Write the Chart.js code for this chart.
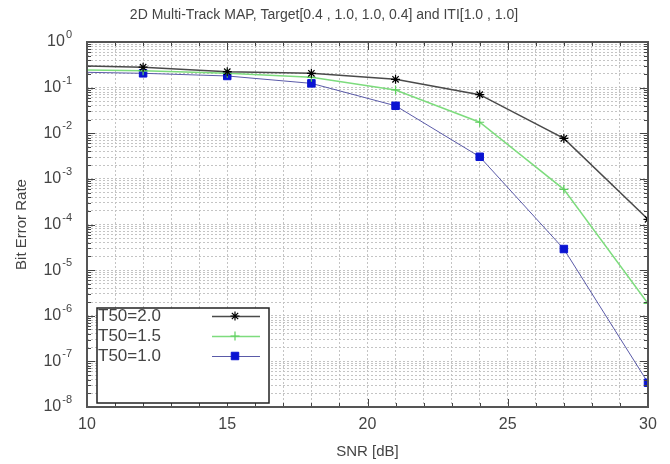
<!DOCTYPE html>
<html>
<head>
<meta charset="utf-8">
<script src="https://cdn.jsdelivr.net/npm/chart.js@4.4.0/dist/chart.umd.min.js"></script>
<style>
  html, body { margin: 0; padding: 0; background: #fff; }
</style>
</head>
<body>
<canvas id="chart" width="670" height="464"></canvas>
<script>
// SNR points (first one sits left of the visible range, only its line shows)
const snr = [9, 12, 15, 18, 21, 24, 27, 30];
const berT20 = [0.31, 0.28, 0.224, 0.206, 0.152, 0.07, 0.0077, 1.3e-4];
const berT15 = [0.248, 0.235, 0.206, 0.168, 0.089, 0.0174, 5.9e-4, 1.86e-6];
const berT10 = [0.222, 0.206, 0.18, 0.124, 0.040, 0.00305, 2.9e-5, 3.4e-8];
const seriesLabels = ['T50=2.0', 'T50=1.5', 'T50=1.0'];
const xTickLabels = [10, 15, 20, 25, 30];
const yDecades = [0, -1, -2, -3, -4, -5, -6, -7, -8];
const titleText = '2D Multi-Track MAP, Target[0.4 , 1.0, 1.0, 0.4] and ITI[1.0 , 1.0]';

const FONT = '"Liberation Sans", Arial, sans-serif';
const TEXT = '#444';
Chart.defaults.font.family = FONT;
Chart.defaults.color = TEXT;

// every 1..9 x 10^e tick for the log grid
const yTicks = [];
yDecades.slice().sort((a, b) => a - b).forEach(e => {
  for (let m = 1; m <= 9; m++) {
    if (e === 0 && m > 1) break;
    yTicks.push({ value: m * Math.pow(10, e), major: m === 1 });
  }
});

const toPoints = ys => snr.map((x, i) => ({ x: x, y: ys[i] }));

const frame = {
  id: 'frame',
  afterDraw(chart) {
    const { ctx, chartArea: a, scales: { x, y } } = chart;
    ctx.save();

    // inner tick marks on all four sides
    ctx.strokeStyle = '#444';
    ctx.lineWidth = 1;
    ctx.beginPath();
    y.ticks.forEach(t => {
      const py = Math.round(y.getPixelForValue(t.value)) + 0.5;
      const len = t.major ? 8 : 4;
      ctx.moveTo(a.left, py); ctx.lineTo(a.left + len, py);
      ctx.moveTo(a.right, py); ctx.lineTo(a.right - len, py);
    });
    x.ticks.forEach(t => {
      const px = Math.round(x.getPixelForValue(t.value)) + 0.5;
      const len = xTickLabels.includes(t.value) ? 8 : 4;
      ctx.moveTo(px, a.bottom); ctx.lineTo(px, a.bottom - len);
      ctx.moveTo(px, a.top); ctx.lineTo(px, a.top + len);
    });
    ctx.stroke();

    // border box
    ctx.lineWidth = 2;
    ctx.strokeStyle = '#555';
    ctx.strokeRect(a.left, a.top, a.right - a.left, a.bottom - a.top);

    // y labels as 10^n
    ctx.fillStyle = TEXT;
    ctx.textBaseline = 'middle';
    ctx.textAlign = 'left';
    yDecades.forEach(e => {
      const py = y.getPixelForValue(Math.pow(10, e));
      const sup = String(e);
      ctx.font = '11px ' + FONT;
      const supW = ctx.measureText(sup).width;
      ctx.font = '16px ' + FONT;
      const baseW = ctx.measureText('10').width;
      const bx = a.left - 16 - supW - baseW;
      ctx.fillText('10', bx, py);
      ctx.font = '11px ' + FONT;
      ctx.fillText(sup, bx + baseW + 1, py - 7);
    });

    // legend box
    const bl = a.left + 10, bt = a.bottom - 99, bw = 172, bh = 95;
    ctx.fillStyle = '#fff';
    ctx.fillRect(bl, bt, bw, bh);
    ctx.lineWidth = 1.5;
    ctx.strokeStyle = '#222';
    ctx.strokeRect(bl, bt, bw, bh);
    chart.data.datasets.forEach((ds, i) => {
      const ly = bt + 8 + i * 20;
      ctx.fillStyle = TEXT;
      ctx.font = '17px ' + FONT;
      ctx.fillText(ds.label, bl + 1, ly);
      ctx.strokeStyle = ds.borderColor;
      ctx.lineWidth = ds.borderWidth;
      ctx.beginPath();
      ctx.moveTo(bl + 115, ly + 0.5);
      ctx.lineTo(bl + 163, ly + 0.5);
      ctx.stroke();
      ctx.strokeStyle = ds.pointBorderColor;
      ctx.fillStyle = ds.pointBackgroundColor;
      ctx.lineWidth = ds.pointBorderWidth;
      Chart.helpers.drawPoint(ctx, {
        pointStyle: ds.pointStyle,
        radius: ds.pointRadius,
        rotation: 0,
        borderWidth: ds.pointBorderWidth
      }, bl + 138, ly);
    });

    ctx.restore();
  }
};

new Chart(document.getElementById('chart'), {
  type: 'line',
  data: {
    datasets: [
      {
        label: seriesLabels[0],
        data: toPoints(berT20),
        borderColor: '#4a4a4a',
        borderWidth: 1.5,
        pointStyle: 'star',
        pointRadius: 4.5,
        pointBorderColor: '#000',
        pointBackgroundColor: '#000',
        pointBorderWidth: 1.2
      },
      {
        label: seriesLabels[1],
        data: toPoints(berT15),
        borderColor: '#7ddc7d',
        borderWidth: 1.5,
        pointStyle: 'cross',
        pointRadius: 4.5,
        pointBorderColor: '#5fd05f',
        pointBackgroundColor: '#5fd05f',
        pointBorderWidth: 1.2
      },
      {
        label: seriesLabels[2],
        data: toPoints(berT10),
        borderColor: '#5a5aa8',
        borderWidth: 1,
        pointStyle: 'rect',
        pointRadius: 5.3,
        pointBorderColor: '#0a14d2',
        pointBackgroundColor: '#0a14d2',
        pointBorderWidth: 1
      }
    ]
  },
  options: {
    responsive: false,
    animation: false,
    devicePixelRatio: 1,
    layout: { padding: { left: 0, right: 22, top: 0, bottom: 0 } },
    plugins: {
      legend: { display: false },
      tooltip: { enabled: false },
      title: {
        display: true,
        text: titleText,
        color: TEXT,
        font: { size: 14, weight: 'normal' },
        padding: { top: 6.6, bottom: 18.6 }
      }
    },
    scales: {
      x: {
        type: 'linear',
        min: 10,
        max: 30,
        afterFit: s => { s.height = 57; },
        ticks: {
          stepSize: 1,
          autoSkip: false,
          maxRotation: 0,
          padding: 8,
          color: TEXT,
          font: { size: 16 },
          callback: v => xTickLabels.includes(v) ? String(v) : ''
        },
        grid: { color: '#c4c4c4', drawTicks: false },
        border: { display: false, dash: [2, 2] },
        title: {
          display: true,
          text: 'SNR [dB]',
          color: TEXT,
          font: { size: 15 },
          padding: { top: 0, bottom: 3 }
        }
      },
      y: {
        type: 'logarithmic',
        min: 1e-8,
        max: 1,
        afterBuildTicks: s => { s.ticks = yTicks.map(t => ({ value: t.value, major: t.major })); },
        afterFit: s => { s.width = 87; },
        ticks: { display: false, autoSkip: false },
        grid: { color: '#c4c4c4', drawTicks: false },
        border: { display: false, dash: [2, 2] },
        title: {
          display: true,
          text: 'Bit Error Rate',
          color: TEXT,
          font: { size: 15 },
          padding: { top: 13 }
        }
      }
    }
  },
  plugins: [frame]
});
</script>
</body>
</html>
